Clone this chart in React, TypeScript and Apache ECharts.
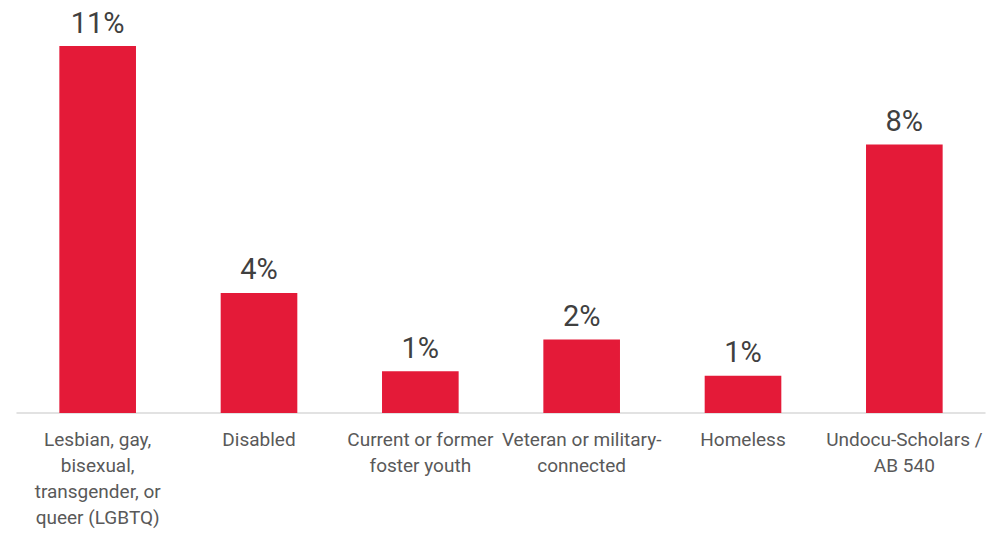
import React, { useEffect, useRef } from "react";
import * as echarts from "echarts";

const categories = [
  "Lesbian, gay,\nbisexual,\ntransgender, or\nqueer (LGBTQ)",
  "Disabled",
  "Current or former\nfoster youth",
  "Veteran or military-\nconnected",
  "Homeless",
  "Undocu-Scholars /\nAB 540",
];
const values = [11.0, 3.6, 1.25, 2.2, 1.12, 8.05];

const FONT = "Roboto, 'Liberation Sans', Arial, sans-serif";

export default function App() {
  const ref = useRef<HTMLDivElement>(null);
  useEffect(() => {
    if (!ref.current) return;
    const chart = echarts.init(ref.current, null, { renderer: "svg" });
    chart.setOption({
      animation: false,
      grid: { left: 17, right: 14, top: 46, bottom: 123, containLabel: false },
      xAxis: {
        type: "category",
        data: categories,
        axisLine: { lineStyle: { color: "#d9d9d9", width: 1.5 } },
        axisTick: { show: false },
        axisLabel: {
          interval: 0,
          color: "#595959",
          fontFamily: FONT,
          fontSize: 19,
          lineHeight: 26,
          margin: 13,
        },
      },
      yAxis: {
        type: "value",
        min: 0,
        max: 11,
        show: false,
        splitLine: { show: false },
      },
      series: [
        {
          type: "bar",
          data: values,
          barWidth: "47.5%",
          itemStyle: { color: "#E41A38" },
          label: {
            show: true,
            position: "top",
            distance: 9,
            color: "#404040",
            fontFamily: FONT,
            fontSize: 29,
            formatter: (p: any) => Math.round(p.value) + "%",
          },
        },
      ],
    });
    return () => chart.dispose();
  }, []);
  return (
    <div
      ref={ref}
      style={{ position: "fixed", left: 0, top: 0, width: 999, height: 536, background: "#fff" }}
    />
  );
}
